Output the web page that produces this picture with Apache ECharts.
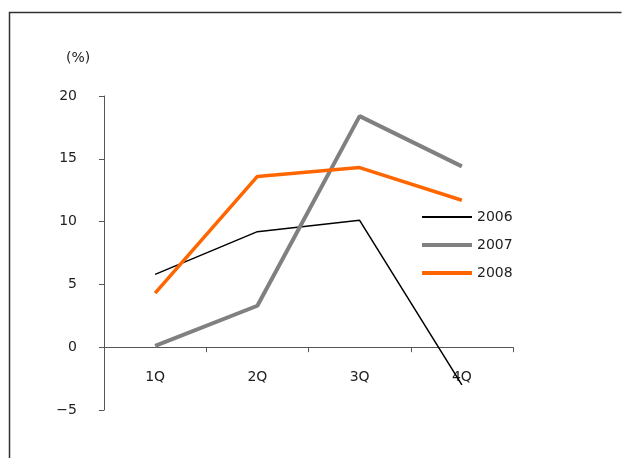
<!DOCTYPE html>
<html>
<head>
<meta charset="utf-8">
<script src="https://cdn.jsdelivr.net/npm/echarts@6/dist/echarts.min.js"></script>
<style>html,body{margin:0;padding:0;background:#fff;}#c{width:622px;height:458px;}</style>
</head>
<body>
<div id="c"></div>
<script>
var categories = ['1Q', '2Q', '3Q', '4Q'];
var s2006 = [5.8, 9.2, 10.1, -3.0];
var s2007 = [0.1, 3.3, 18.4, 14.4];
var s2008 = [4.3, 13.6, 14.3, 11.7];
var yTicks = [-5, 0, 5, 10, 15, 20];

var FONT = 'DejaVu Sans';
var chart = echarts.init(document.getElementById('c'));
chart.setOption({
  animation: false,
  backgroundColor: '#fff',
  textStyle: { fontFamily: FONT },
  grid: { left: 104, right: 109, top: 96, bottom: 48, containLabel: false },
  graphic: [
    { type: 'polyline', shape: { points: [[9.5, 470], [9.5, 12.5], [621.5, 12.5]] },
      style: { stroke: '#333', lineWidth: 1.5, fill: null } },
    { type: 'text', left: 66, top: 51,
      style: { text: '(%)', font: '14px ' + FONT, fill: '#222' } }
  ],
  legend: {
    orient: 'vertical', left: 420, top: 210, padding: 0,
    itemWidth: 50, itemHeight: 14, itemGap: 14,
    itemStyle: { opacity: 0 },
    textStyle: { fontSize: 14, color: '#222', fontFamily: FONT },
    data: [
      { name: '2006', lineStyle: { width: 2 } },
      { name: '2007', lineStyle: { width: 4 } },
      { name: '2008', lineStyle: { width: 4 } }
    ]
  },
  xAxis: {
    type: 'category', data: categories, boundaryGap: true,
    axisLine: { onZero: true, lineStyle: { color: '#555', width: 1 } },
    axisTick: { show: true, length: 5, lineStyle: { color: '#555' } },
    axisLabel: { margin: -40, fontSize: 14, color: '#222', fontFamily: FONT },
    splitLine: { show: false }
  },
  yAxis: {
    type: 'value', min: -5, max: 20, interval: 5,
    axisLine: { show: true, lineStyle: { color: '#555', width: 1 } },
    axisTick: { show: true, length: 5, lineStyle: { color: '#555' } },
    axisLabel: { margin: 27, fontSize: 14, color: '#222', fontFamily: FONT,
      formatter: function (v) { return yTicks.indexOf(v) >= 0 ? (v < 0 ? '\u2212' + Math.abs(v) : String(v)) : ''; } },
    splitLine: { show: false }
  },
  series: [
    { name: '2006', type: 'line', data: s2006, symbol: 'none',
      lineStyle: { color: '#000', width: 1.5 }, itemStyle: { color: '#000' } },
    { name: '2007', type: 'line', data: s2007, symbol: 'none',
      lineStyle: { color: '#808080', width: 4 }, itemStyle: { color: '#808080' } },
    { name: '2008', type: 'line', data: s2008, symbol: 'none',
      lineStyle: { color: '#FF6600', width: 3.5 }, itemStyle: { color: '#FF6600' } }
  ]
});
</script>
</body>
</html>
